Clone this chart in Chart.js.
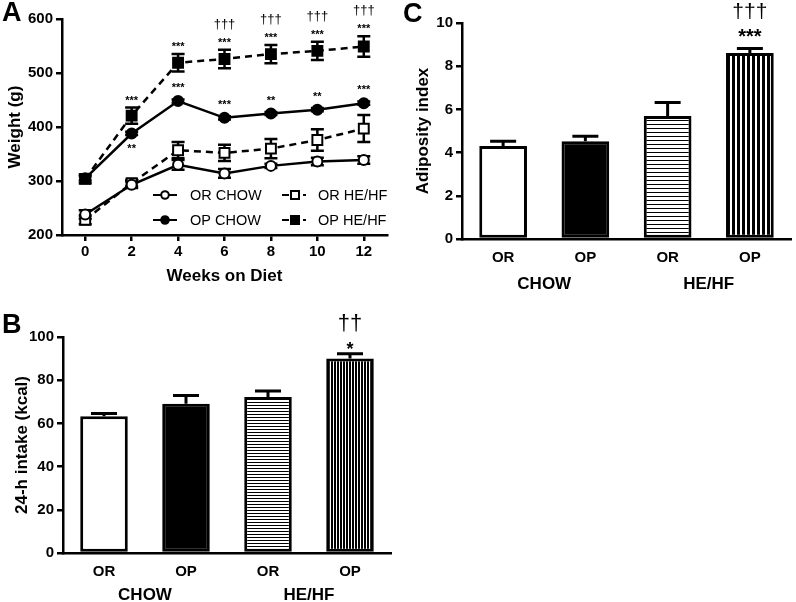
<!DOCTYPE html>
<html>
<head>
<meta charset="utf-8">
<script src="https://cdn.jsdelivr.net/npm/chart.js@4.4.0/dist/chart.umd.min.js"></script>
<style>
body { margin: 0; background: #fff; }
#wrap { position: relative; width: 796px; height: 602px; }
canvas { position: absolute; }
</style>
</head>
<body>
<div id="wrap">
  <canvas id="weightChart" width="400" height="300" style="left:0;top:0"></canvas>
  <canvas id="intakeChart" width="400" height="302" style="left:0;top:300px"></canvas>
  <canvas id="adiposityChart" width="396" height="300" style="left:400px;top:0"></canvas>
</div>
<script>
// panel A: body weight over time
const weeks = [0, 2, 4, 6, 8, 10, 12]
const seriesNames = ['OR CHOW', 'OP CHOW', 'OR HE/HF', 'OP HE/HF']
const orChow = [238, 293, 330, 314, 328, 336, 339]
const orChowErr = [8, 6, 9, 8, 4, 7, 7]
const opChow = [305, 388, 448, 417, 425, 432, 444]
const opChowErr = [4, 3, 3, 3, 3, 3, 3]
const orHe = [228, 296, 357, 352, 360, 376, 397]
const orHeErr = [8, 6, 15, 15, 18, 20, 25]
const opHe = [304, 421, 519, 526, 535, 541, 549]
const opHeErr = [8, 15, 16, 17, 17, 17, 19]
const opChowStars = ['', '**', '***', '***', '**', '**', '***']
const opHeStars = ['', '***', '***', '***', '***', '***', '***']
const opHeDaggers = ['', '', '', '†††', '†††', '†††', '†††']

// panels B and C
const groups = ['OR', 'OP', 'OR', 'OP']
const diets = ['CHOW', 'HE/HF']
const intake = [63.3, 69.1, 72.2, 90]
const intakeErr = [1.3, 3.8, 2.8, 2.3]
const intakeStars = ['', '', '', '*']
const intakeDaggers = ['', '', '', '††']
const adiposity = [4.31, 4.53, 5.69, 8.61]
const adiposityErr = [0.22, 0.23, 0.63, 0.21]
const adiposityStars = ['', '', '', '***']
const adiposityDaggers = ['', '', '', '†††']

const FONT = "'Liberation Sans', Arial, Helvetica, sans-serif"
Chart.defaults.font.family = FONT
Chart.defaults.color = '#000'
Chart.defaults.animation = false

function letter(text, x, y) {
  return {
    id: 'letter',
    afterDraw(chart) {
      const ctx = chart.ctx
      ctx.save()
      ctx.font = `bold 27px ${FONT}`
      ctx.fillStyle = '#000'
      ctx.fillText(text, x, y)
      ctx.restore()
    }
  }
}

function axis(extra) {
  return Object.assign({
    border: { display: true, color: '#000', width: 2.5 },
    grid: { display: true, drawOnChartArea: false, drawTicks: true, tickLength: 6, color: '#000', lineWidth: 2.5 },
  }, extra)
}

// stripes for the HE/HF bars
function stripes(size, horizontal, ink) {
  const c = document.createElement('canvas')
  c.width = horizontal ? 1 : size
  c.height = horizontal ? size : 1
  const g = c.getContext('2d')
  g.fillStyle = horizontal ? '#fff' : '#000'
  g.fillRect(0, 0, c.width, c.height)
  g.fillStyle = horizontal ? '#000' : '#fff'
  if (horizontal) g.fillRect(0, 0, 1, ink)
  else g.fillRect(0, 0, ink, 1)
  return g.createPattern(c, 'repeat')
}

const lineErrorBars = {
  id: 'lineErrorBars',
  beforeDatasetsDraw(chart) {
    const { ctx, scales: { x, y } } = chart
    ctx.save()
    ctx.strokeStyle = '#000'
    ctx.lineWidth = 2.5
    chart.data.datasets.forEach(ds => {
      ds.data.forEach((p, i) => {
        const px = x.getPixelForValue(p.x)
        const top = y.getPixelForValue(p.y + ds.errors[i])
        const bot = y.getPixelForValue(p.y - ds.errors[i])
        ctx.beginPath()
        ctx.moveTo(px, top); ctx.lineTo(px, bot)
        ctx.moveTo(px - 6.5, top); ctx.lineTo(px + 6.5, top)
        ctx.moveTo(px - 6.5, bot); ctx.lineTo(px + 6.5, bot)
        ctx.stroke()
      })
    })
    ctx.restore()
  }
}

const weightMarks = {
  id: 'weightMarks',
  afterDatasetsDraw(chart) {
    const { ctx, scales: { x, y } } = chart
    ctx.save()
    ctx.fillStyle = '#000'
    ctx.textAlign = 'center'
    chart.data.datasets.forEach(ds => {
      ds.data.forEach((p, i) => {
        const px = x.getPixelForValue(p.x)
        const top = y.getPixelForValue(p.y + ds.errors[i])
        const pt = y.getPixelForValue(p.y)
        if (ds.stars && ds.stars[i]) {
          ctx.font = `bold 11px ${FONT}`
          if (ds.starBelow && ds.starBelow.includes(i)) ctx.fillText(ds.stars[i], px, pt + 19)
          else ctx.fillText(ds.stars[i], px, Math.min(top, pt - 6) - 4)
        }
        if (ds.daggers && ds.daggers[i]) {
          ctx.font = `13px ${FONT}`
          ctx.fillText(ds.daggers[i], px, top - 22)
        }
      })
    })
    // legend
    const rows = [195, 220]
    const cols = [{ a: 153, b: 177, m: 165, t: 190 }, { a: 282, b: 289, m: 295, t: 318 }]
    chart.data.datasets.forEach((ds, i) => {
      const c = cols[Math.floor(i / 2)], ry = rows[i % 2]
      ctx.strokeStyle = '#000'
      ctx.lineWidth = 2
      ctx.beginPath()
      ctx.moveTo(c.a, ry); ctx.lineTo(c.b, ry)
      if (ds.borderDash) { ctx.moveTo(c.m + 8, ry); ctx.lineTo(c.m + 11, ry) }
      ctx.stroke()
      ctx.fillStyle = ds.pointBackgroundColor
      ctx.beginPath()
      if (ds.pointStyle === 'rect') ctx.rect(c.m - 4, ry - 4, 8, 8)
      else ctx.arc(c.m, ry, 3.8, 0, Math.PI * 2)
      ctx.fill(); ctx.stroke()
      ctx.fillStyle = '#000'
      ctx.font = `14.5px ${FONT}`
      ctx.textAlign = 'left'
      ctx.textBaseline = 'middle'
      ctx.fillText(seriesNames[i], c.t, ry + 1)
      ctx.textAlign = 'center'
      ctx.textBaseline = 'alphabetic'
    })
    ctx.restore()
  }
}

function series(i, values, errors, filled, dashed, extra) {
  return Object.assign({
    label: seriesNames[i],
    data: weeks.map((w, k) => ({ x: w, y: values[k] })),
    errors: errors,
    borderColor: '#000',
    borderWidth: 2.5,
    borderDash: dashed ? [7, 5] : undefined,
    pointStyle: dashed ? 'rect' : 'circle',
    pointRadius: dashed ? 7 : 5,
    pointBorderWidth: 2,
    pointBorderColor: '#000',
    pointBackgroundColor: filled ? '#000' : '#fff',
    tension: 0,
  }, extra)
}

new Chart(document.getElementById('weightChart'), {
  type: 'line',
  data: {
    datasets: [
      series(0, orChow, orChowErr, false, false),
      series(1, opChow, opChowErr, true, false, { stars: opChowStars, starBelow: [1] }),
      series(2, orHe, orHeErr, false, true),
      series(3, opHe, opHeErr, true, true, { stars: opHeStars, daggers: opHeDaggers }),
    ]
  },
  options: {
    responsive: false,
    layout: { padding: { top: 19, right: 13, left: 0, bottom: 0 } },
    plugins: { legend: { display: false }, tooltip: { enabled: false } },
    scales: {
      x: axis({
        type: 'linear', min: -1, max: 13,
        afterBuildTicks: s => { s.ticks = weeks.map(v => ({ value: v })) },
        afterFit: s => { s.height = 65 },
        ticks: { font: { size: 15, weight: 'bold' }, padding: 2 },
        title: { display: true, text: 'Weeks on Diet', font: { size: 17, weight: 'bold' }, padding: { top: 0, bottom: 13 } },
      }),
      y: axis({
        min: 200, max: 600,
        afterFit: s => { s.width = 62 },
        ticks: { stepSize: 100, font: { size: 15, weight: 'bold' }, padding: 3 },
        title: { display: true, text: 'Weight (g)', font: { size: 17, weight: 'bold' }, padding: { top: 5, bottom: 0 } },
      }),
    }
  },
  plugins: [lineErrorBars, weightMarks, letter('A', 2, 21)]
})

// bar panels
const barExtras = {
  id: 'barExtras',
  afterDatasetsDraw(chart, args, o) {
    const { ctx, scales: { x, y } } = chart
    const ds = chart.data.datasets[0]
    const meta = chart.getDatasetMeta(0)
    ctx.save()
    ctx.strokeStyle = '#000'
    ctx.fillStyle = '#000'
    ctx.lineWidth = 3
    ctx.textAlign = 'center'
    meta.data.forEach((bar, i) => {
      const top = y.getPixelForValue(ds.data[i] + ds.errors[i])
      ctx.beginPath()
      ctx.moveTo(bar.x, bar.y); ctx.lineTo(bar.x, top)
      ctx.moveTo(bar.x - 13, top); ctx.lineTo(bar.x + 13, top)
      ctx.stroke()
      if (ds.stars[i]) {
        ctx.font = `bold ${o.starSize}px ${FONT}`
        ctx.fillText(ds.stars[i], bar.x, top - o.starGap)
      }
      if (ds.daggers[i]) {
        ctx.font = `${o.daggerSize}px ${FONT}`
        ctx.fillText(ds.daggers[i], bar.x, top - o.daggerGap)
      }
    })
    ctx.restore()
  },
  afterDraw(chart, args, o) {
    const { ctx, scales: { x } } = chart
    ctx.save()
    ctx.font = `bold 17px ${FONT}`
    ctx.fillStyle = '#000'
    ctx.textAlign = 'center'
    ctx.textBaseline = 'middle'
    diets.forEach((d, k) => {
      const cx = (x.getPixelForValue(2 * k) + x.getPixelForValue(2 * k + 1)) / 2
      ctx.fillText(d, cx, chart.chartArea.bottom + o.dietGap)
    })
    ctx.restore()
  }
}

function barChart(id, values, errors, stars, daggers, cfg) {
  const canvas = document.getElementById(id)
  return new Chart(canvas, {
    type: 'bar',
    data: {
      labels: groups,
      datasets: [{
        data: values,
        errors: errors,
        stars: stars,
        daggers: daggers,
        backgroundColor: ['#fff', '#000', stripes(cfg.hStripe, true, 1), stripes(cfg.vStripe, false, cfg.vInk)],
        borderColor: '#000',
        borderWidth: 3,
        borderSkipped: false,
        barPercentage: 0.58,
        categoryPercentage: 1,
      }]
    },
    options: {
      responsive: false,
      layout: { padding: { top: cfg.top, right: cfg.right, left: 0, bottom: 0 } },
      plugins: {
        legend: { display: false }, tooltip: { enabled: false },
        barExtras: cfg.marks,
      },
      scales: {
        x: axis({
          grid: { display: true, drawOnChartArea: false, drawTicks: false, color: '#000' },
          afterFit: s => { s.height = cfg.xHeight },
          ticks: { font: { size: 15, weight: 'bold' }, padding: cfg.tickPad },
        }),
        y: axis({
          min: 0, max: cfg.max,
          afterFit: s => { s.width = cfg.yWidth },
          ticks: { stepSize: cfg.step, font: { size: 15, weight: 'bold' }, padding: 3 },
          title: { display: true, text: cfg.title, font: { size: 17, weight: 'bold' }, padding: { top: cfg.titlePad, bottom: 0 } },
        }),
      }
    },
    plugins: [barExtras, letter(cfg.letter, cfg.lx, cfg.ly)]
  })
}

barChart('intakeChart', intake, intakeErr, intakeStars, intakeDaggers, {
  letter: 'B', lx: 2, ly: 33,
  top: 37, right: 9, xHeight: 49, yWidth: 63, max: 100, step: 20, tickPad: 10,
  title: '24-h intake (kcal)', titlePad: 12,
  hStripe: 3, vStripe: 3, vInk: 1,
  marks: { starSize: 18, starGap: -1, daggerSize: 22, daggerGap: 24, dietGap: 42 },
})

barChart('adiposityChart', adiposity, adiposityErr, adiposityStars, adiposityDaggers, {
  letter: 'C', lx: 3, ly: 22,
  top: 23, right: 5, xHeight: 61, yWidth: 62, max: 10, step: 2, tickPad: 10,
  title: 'Adiposity index', titlePad: 13,
  hStripe: 4, vStripe: 5, vInk: 2,
  marks: { starSize: 20, starGap: 5, daggerSize: 21, daggerGap: 30, dietGap: 45 },
})
</script>
</body>
</html>
